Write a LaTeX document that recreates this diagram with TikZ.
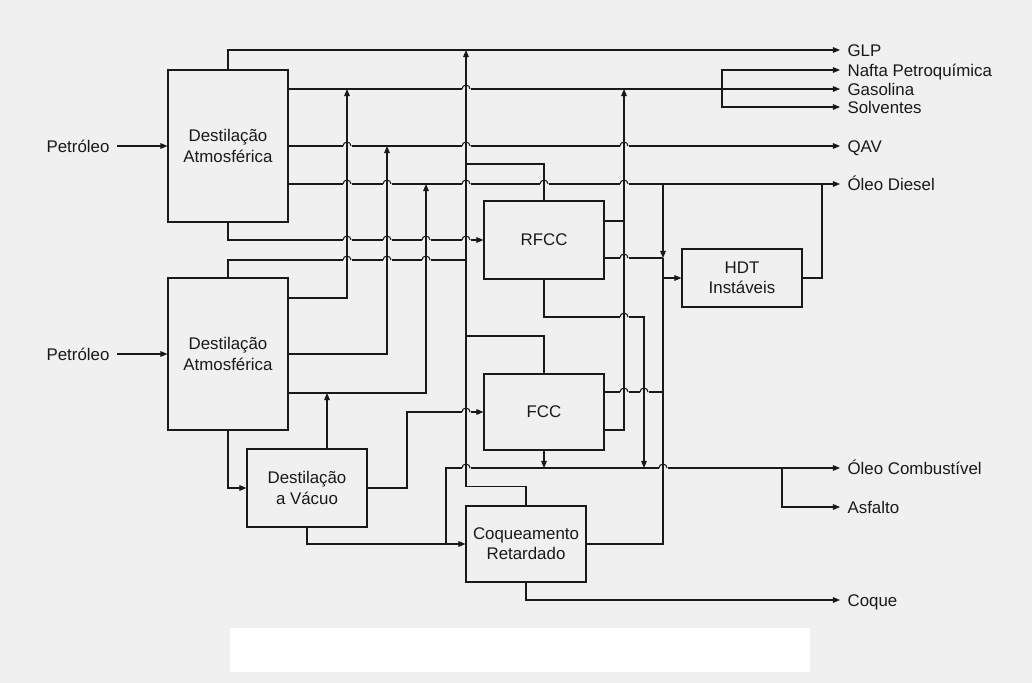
\documentclass[tikz,border=0pt]{standalone}
\usepackage{fontspec}
\setmainfont{Liberation Sans}
\usetikzlibrary{arrows.meta}

\tikzset{
    unit/.style={draw, minimum width=3cm, align=center, inner sep=2pt},
    prod/.style={inner xsep=5pt, inner ysep=0pt, text height=8.6pt, text depth=0pt},
}

\begin{document}
\begin{tikzpicture}[x=0.025cm, y=-0.025cm, line width=0.75pt, color=black!90,
    >={Triangle[length=5pt,width=4pt]}, font=\fontsize{12}{14.4}\selectfont]
    \fill[black!6] (0,0) rectangle (1032,683);
    \fill[white] (230,628) rectangle (810,672);
    \useasboundingbox (0,0) rectangle (1032,683);

    % unidades de processo
    \node[unit, minimum height=3.8cm] (da1) at (228,146) {Destilação\\Atmosférica};
    \node[unit, minimum height=3.8cm] (da2) at (228,354) {Destilação\\Atmosférica};
    \node[unit, minimum height=1.95cm] (dv) at (307,488) {Destilação\\a Vácuo};
    \node[unit, minimum height=1.95cm] (rfcc) at (544,240) {RFCC};
    \node[unit, minimum height=1.9cm] (fcc) at (544,412) {FCC};
    \node[unit, minimum height=1.45cm] (hdt) at (742,278) {HDT\\Instáveis};
    \node[unit, minimum height=1.9cm] (coq) at (526,544) {Coqueamento\\Retardado};

    % cargas e produtos
    \node[prod, anchor=east] (pet1) at (117,146) {Petróleo};
    \node[prod, anchor=east] (pet2) at (117,354) {Petróleo};
    \node[prod, anchor=west] (glp) at (840,50) {GLP};
    \node[prod, anchor=west] (nafta) at (840,70) {Nafta Petroquímica};
    \node[prod, anchor=west] (gasol) at (840,89) {Gasolina};
    \node[prod, anchor=west] (solv) at (840,107) {Solventes};
    \node[prod, anchor=west] (qav) at (840,146) {QAV};
    \node[prod, anchor=west] (diesel) at (840,184) {Óleo Diesel};
    \node[prod, anchor=west] (oc) at (840,468) {Óleo Combustível};
    \node[prod, anchor=west] (asf) at (840,507) {Asfalto};
    \node[prod, anchor=west] (coque) at (840,600) {Coque};

    % pontos dos barramentos
    \coordinate (gas1) at (347,89);
    \coordinate (qav1) at (387,146);
    \coordinate (die1) at (426,184);
    \coordinate (glp1) at (466,50);
    \coordinate (gas2) at (624,89);
    \coordinate (nft1) at (722,89);
    \coordinate (hdt1) at (663,258);
    \coordinate (die2) at (822,184);
    \coordinate (oc1) at (644,468);
    \coordinate (asf1) at (782,468);
    \coordinate (res1) at (446,544);
    \coordinate (vac1) at (327,393);

    \draw[->] (pet1.east) -- (da1.west);
    \draw[->] (pet2.east) -- (da2.west);

    % destilação 1
    \draw[->] (da1.north) |- (glp.west);
    \draw[->] (da1.east |- gas1) -- (gasol.west);
    \draw[<->] (nafta.west) -| (nft1) |- (solv.west);
    \draw[->] (da1.east) -- (qav.west);
    \draw[->] (da1.east |- die1) -- (diesel.west);
    \draw[->] (da1.south) |- (rfcc.west);

    % destilação 2
    \draw (da2.north) |- (glp1 |- 0,260);
    \draw[->] (da2.east |- 0,298) -| (gas1);
    \draw[->] (da2.east) -| (qav1);
    \draw[->] (da2.east |- vac1) -| (die1);
    \draw[->] (da2.south) |- (dv.west);

    % vácuo
    \draw[->] (dv.north -| vac1) -- (vac1);
    \draw[->] (dv.east) -| (407,412) -- (fcc.west);
    \draw[->] (dv.south) |- (coq.west);
    \draw[->] (res1) |- (oc.west);
    \draw[->] (asf1) |- (asf.west);

    % RFCC
    \draw (rfcc.north) |- (glp1 |- 0,164);
    \draw (rfcc.east |- 0,221) -- (gas2 |- 0,221);
    \draw (rfcc.east |- hdt1) -- (hdt1);
    \draw[->] (rfcc.south) |- (oc1 |- 0,317) -- (oc1);

    % FCC
    \draw (fcc.north) |- (glp1 |- 0,336);
    \draw (fcc.east |- 0,392) -- (hdt1 |- 0,392);
    \draw[->] (fcc.east |- 0,430) -| (gas2);
    \draw[->] (fcc.south) -- (fcc.south |- oc.west);

    % coque e HDT
    \draw[->] (coq.north) -- ++(0,-19) -| (glp1);
    \draw[->] (coq.south) |- (coque.west);
    \draw (coq.east) -| (hdt1);
    \draw[->] (hdt1 |- die2) -- (hdt1);
    \draw[->] (hdt1) |- (hdt.west);
    \draw (hdt.east) -| (die2);

    % saltos nos cruzamentos
    \foreach \x/\y in {466/89, 347/146, 466/146, 624/146, 347/184, 387/184, 466/184,
        544/184, 624/184, 347/240, 387/240, 426/240, 466/240, 347/260, 387/260,
        426/260, 624/258, 624/317, 624/392, 644/392, 466/412, 466/468, 663/468} {
        \fill[black!6] (\x-4.5,\y-1.5) rectangle (\x+4.5,\y+1.5);
        \draw (\x,\y-6) -- (\x,\y+6);
        \draw (\x-4,\y) arc[start angle=180,end angle=0,radius=0.1cm];
    }
\end{tikzpicture}
\end{document}
